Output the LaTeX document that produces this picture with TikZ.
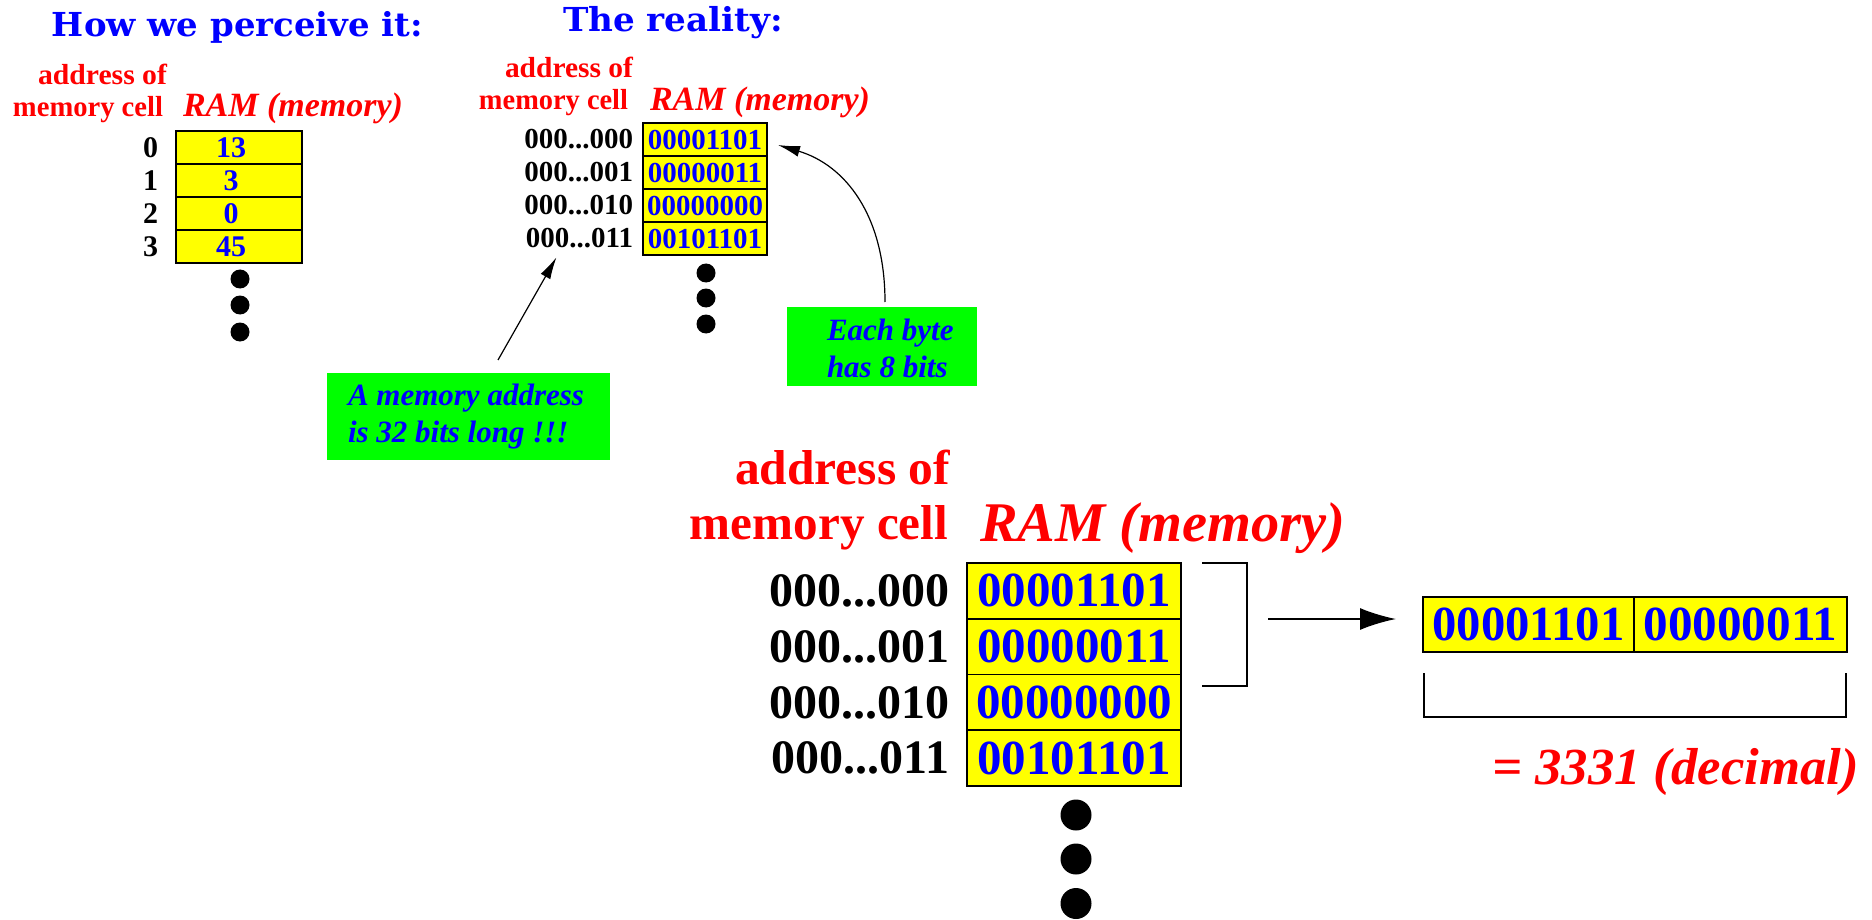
\documentclass[tikz,border=0pt]{standalone}
\usepackage{graphicx}
\usepackage{fontspec}
\setmainfont{Liberation Serif}
\newfontfamily\headfont{DejaVu Serif}
\usetikzlibrary{arrows.meta,calc}
\definecolor{cellyellow}{RGB}{255,255,0}
\definecolor{notegreen}{RGB}{0,255,0}
\definecolor{txtblue}{RGB}{0,0,255}
\definecolor{txtred}{RGB}{255,0,0}
% stretch or squeeze a text horizontally to a given width
\newcommand\fitw[2]{\resizebox{#1}{\height}{#2}}
\newcommand\fsz[1]{\fontsize{#1}{#1}\selectfont}

\begin{document}
\begin{tikzpicture}[x=1pt,y=-1pt,
  txt/.style={inner sep=0pt,outer sep=0pt},
  heading/.style={txt,anchor=base west,text=txtblue,font=\headfont\bfseries\fsz{33}},
  redlbl/.style={txt,anchor=base east,text=txtred,font=\bfseries\fsz{#1}},
  ramlbl/.style={txt,anchor=base west,text=txtred,font=\bfseries\itshape\fsz{#1}},
  addr/.style={txt,anchor=east,font=\bfseries\fsz{#1}},
  byte/.style={draw=black,line width=1.5pt,fill=cellyellow,inner sep=0pt,outer sep=0pt,
               text=txtblue,font=\bfseries\fsz{#1}},
  value/.style={txt,text=txtblue,font=\bfseries\fsz{#1}},
  dotmark/.style={circle,fill=black,inner sep=0pt,minimum size=#1},
  note/.style={fill=notegreen,inner sep=0pt,outer sep=0pt,anchor=north west},
  notetxt/.style={txt,anchor=base west,text=txtblue,font=\bfseries\itshape\fsz{31}},
  ptr/.style={-{Latex[length=22pt,width=11pt]},line width=1.2pt},
  brace/.style={line width=2pt},
]
\useasboundingbox (0,0) rectangle (1872,920);

% ---------- how we perceive it ----------
\node[heading] (h1) at (52,37) {\fitw{371pt}{How we perceive it:}};
\node[redlbl=29] (l1a) at (167,85) {\fitw{129pt}{address of}};
\node[redlbl=29] (l1b) at (163,117) {\fitw{150pt}{memory cell}};
\node[ramlbl=34] (r1) at (183,117) {\fitw{220pt}{RAM (memory)}};

\node[byte=30,minimum width=126pt,minimum height=33pt] (p0) at (239,147.5) {};
\node[byte=30,minimum width=126pt,minimum height=33pt] (p1) at (239,180.5) {};
\node[byte=30,minimum width=126pt,minimum height=33pt] (p2) at (239,213.5) {};
\node[byte=30,minimum width=126pt,minimum height=33pt] (p3) at (239,246.5) {};
\node[value=30] (pv0) at (231,147.5) {13};
\node[value=30] (pv1) at (231,180.5) {3};
\node[value=30] (pv2) at (231,213.5) {0};
\node[value=30] (pv3) at (231,246.5) {45};
\node[addr=30] (pa0) at ($(p0.west)+(-18,0)$) {0};
\node[addr=30] (pa1) at ($(p1.west)+(-18,0)$) {1};
\node[addr=30] (pa2) at ($(p2.west)+(-18,0)$) {2};
\node[addr=30] (pa3) at ($(p3.west)+(-18,0)$) {3};
\node[dotmark=19pt] (pd1) at (240,279) {};
\node[dotmark=19pt] (pd2) at (240,305) {};
\node[dotmark=19pt] (pd3) at (240,332) {};

% ---------- the reality ----------
\node[heading] (h2) at (563,32) {\fitw{220pt}{The reality:}};
\node[redlbl=29] (l2a) at (633,78) {\fitw{128pt}{address of}};
\node[redlbl=29] (l2b) at (628,110) {\fitw{149pt}{memory cell}};
\node[ramlbl=34] (r2) at (650,111) {\fitw{220pt}{RAM (memory)}};

\node[byte=29,minimum width=124pt,minimum height=33pt] (m1) at (705,139.5) {00001101};
\node[byte=29,minimum width=124pt,minimum height=33pt] (m2) at (705,172.5) {00000011};
\node[byte=29,minimum width=124pt,minimum height=33pt] (m3) at (705,205.5) {00000000};
\node[byte=29,minimum width=124pt,minimum height=33pt] (m4) at (705,238.5) {00101101};
\node[addr=29] (m1a) at ($(m1.west)+(-10,0)$) {000...000};
\node[addr=29] (m2a) at ($(m2.west)+(-10,0)$) {000...001};
\node[addr=29] (m3a) at ($(m3.west)+(-10,0)$) {000...010};
\node[addr=29] (m4a) at ($(m4.west)+(-10,0)$) {000...011};
\node[dotmark=19pt] (md1) at (706,273) {};
\node[dotmark=19pt] (md2) at (706,298) {};
\node[dotmark=19pt] (md3) at (706,324) {};

% notes
\node[note,minimum width=283pt,minimum height=87pt] (n1) at (327,373) {};
\node[notetxt] (n1a) at (348,405) {A memory address};
\node[notetxt] (n1b) at (348,442) {is 32 bits long !!!};
\node[note,minimum width=190pt,minimum height=79pt] (n2) at (787,307) {};
\node[notetxt] (n2a) at (827,340) {Each byte};
\node[notetxt] (n2b) at (827,377) {has 8 bits};

\coordinate (f1) at ($(n1.north west)+(171,-13)$);
\coordinate (t1) at ($(m4a.south)+(-23,9)$);
\draw[ptr] (f1) -- (t1);
\coordinate (f2) at ($(n2.north)+(3,-5)$);
\coordinate (t2) at ($(m1.east)+(11,5.5)$);
\draw[ptr] (f2) .. controls ($(f2)+(0,-87)$) and ($(t2)+(67,20)$) .. (t2);

% ---------- enlarged view ----------
\node[redlbl=49] (l3a) at (950,484) {\fitw{215pt}{address of}};
\node[redlbl=49] (l3b) at (948,539) {\fitw{258pt}{memory cell}};
\node[ramlbl=56] (r3) at (980,541) {\fitw{365pt}{RAM (memory)}};

\node[byte=49,line width=1.8pt,minimum width=214pt,minimum height=55.75pt] (b1) at (1074,590.9) {00001101};
\node[byte=49,line width=1.8pt,minimum width=214pt,minimum height=55.75pt] (b2) at (1074,646.6) {00000011};
\node[byte=49,line width=1.8pt,minimum width=214pt,minimum height=55.75pt] (b3) at (1074,702.4) {00000000};
\node[byte=49,line width=1.8pt,minimum width=214pt,minimum height=55.75pt] (b4) at (1074,758.1) {00101101};
\node[addr=48] (b1a) at ($(b1.west)+(-18,0)$) {000...000};
\node[addr=48] (b2a) at ($(b2.west)+(-18,0)$) {000...001};
\node[addr=48] (b3a) at ($(b3.west)+(-18,0)$) {000...010};
\node[addr=48] (b4a) at ($(b4.west)+(-18,0)$) {000...011};
\node[dotmark=31pt] (bd1) at (1076,815) {};
\node[dotmark=31pt] (bd2) at (1076,859) {};
\node[dotmark=31pt] (bd3) at (1076,903.5) {};

% the two bytes joined into one value
\draw[brace] ($(b1.north east)+(21,0)$) -- ++(45,0) -- ++(0,123) -- ++(-45,0);

\node[byte=49,line width=1.8pt,minimum width=211pt,minimum height=55pt] (s1) at (1528.5,624.5) {\fitw{192pt}{00001101}};
\node[byte=49,line width=1.8pt,minimum width=213pt,minimum height=55pt] (s2) at (1740.5,624.5) {\fitw{194pt}{00000011}};

\coordinate (bigfrom) at (1268,619);
\draw[-{Latex[length=36pt,width=22pt]},line width=2pt] (bigfrom) -- ($(s1.west |- bigfrom)+(-27,0)$);

\draw[brace] ($(s1.south west)+(1,21)$) -- ++(0,44) -- ($(s2.south east)+(-1,65)$) -- ++(0,-44);
\node[ramlbl=52] (dec) at (1492,784) {\fitw{367pt}{= 3331 (decimal)}};
\end{tikzpicture}
\end{document}
